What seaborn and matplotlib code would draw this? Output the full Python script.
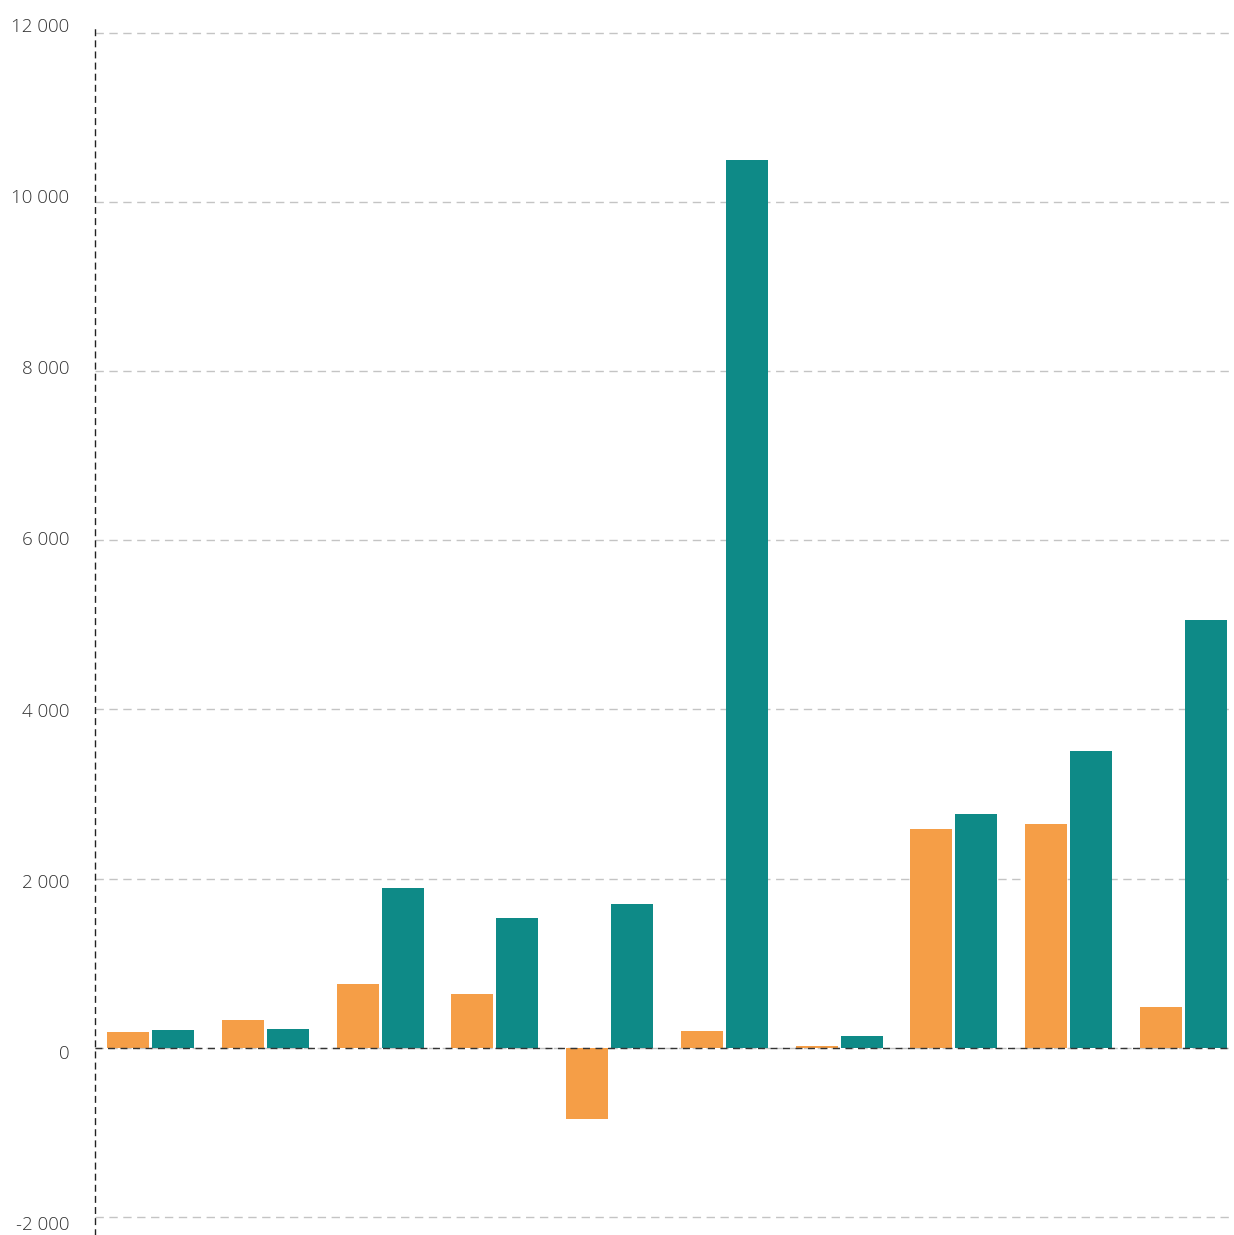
import numpy as np
import pandas as pd
import matplotlib
matplotlib.use("Agg")
import matplotlib.pyplot as plt
from matplotlib.ticker import FuncFormatter
import seaborn as sns

# значения
categories = ["G1", "G2", "G3", "G4", "G5", "G6", "G7", "G8", "G9", "G10"]
series_a = [190, 330, 756, 638, -838, 200, 15, 2587, 2646, 484]
series_b = [212, 225, 1890, 1535, 1700, 10490, 142, 2764, 3508, 5055]
series_names = ["A", "B"]
palette = ["#F59E47", "#0E8A87"]
y_ticks = [-2000, 0, 2000, 4000, 6000, 8000, 10000, 12000]

df = pd.DataFrame({
    "cat": categories * 2,
    "val": series_a + series_b,
    "series": [series_names[0]] * len(categories) + [series_names[1]] * len(categories),
})

sns.set_theme(style="white")
plt.rcParams["font.family"] = ["Open Sans", "DejaVu Sans"]

fig = plt.figure(figsize=(12.34, 12.35), dpi=100)
ax = fig.add_axes([95 / 1234, 0.0, (1231 - 95) / 1234, 1 - 25 / 1235])

sns.barplot(data=df, x="cat", y="val", hue="series", order=categories,
            hue_order=series_names, palette=palette, saturation=1,
            width=0.785, gap=0.067, linewidth=0, errorbar=None, legend=False, ax=ax)

ax.set_xlim(-0.484, 9.414)
ax.set_ylim(-2214, 12089)
ax.set_yticks(y_ticks)
ax.set_yticklabels([])
ax.set_xticks([])
ax.set_xlabel("")
ax.set_ylabel("")

# сетка
ax.set_axisbelow(True)
ax.yaxis.grid(True, color="#c4c4c4", linestyle=(0, (6, 4)), linewidth=1)
ax.axhline(0, color="#333333", linestyle=(0, (5, 4)), linewidth=1, zorder=5)

for s in ["top", "right", "bottom"]:
    ax.spines[s].set_visible(False)
ax.spines["left"].set_color("#222222")
ax.spines["left"].set_linewidth(1)
ax.spines["left"].set_linestyle((0, (4, 4)))
ax.tick_params(axis="y", length=0)

# подписи оси y идут с чуть другим шагом, чем сетка
lab = ax.twinx()
lab.set_ylim(-2140, 11905)
lab.set_yticks(y_ticks)
lab.yaxis.set_major_formatter(FuncFormatter(lambda v, p: f"{int(v):,}".replace(",", " ")))
lab.yaxis.set_ticks_position("left")
lab.yaxis.set_label_position("left")
lab.tick_params(axis="y", length=0, pad=18.5, labelsize=13.5, labelcolor="#333333")
for s in lab.spines.values():
    s.set_visible(False)
lab.grid(False)
for lbl in lab.get_yticklabels():
    lbl.set_fontweight("light")

fig.savefig("out.png", dpi=100)
